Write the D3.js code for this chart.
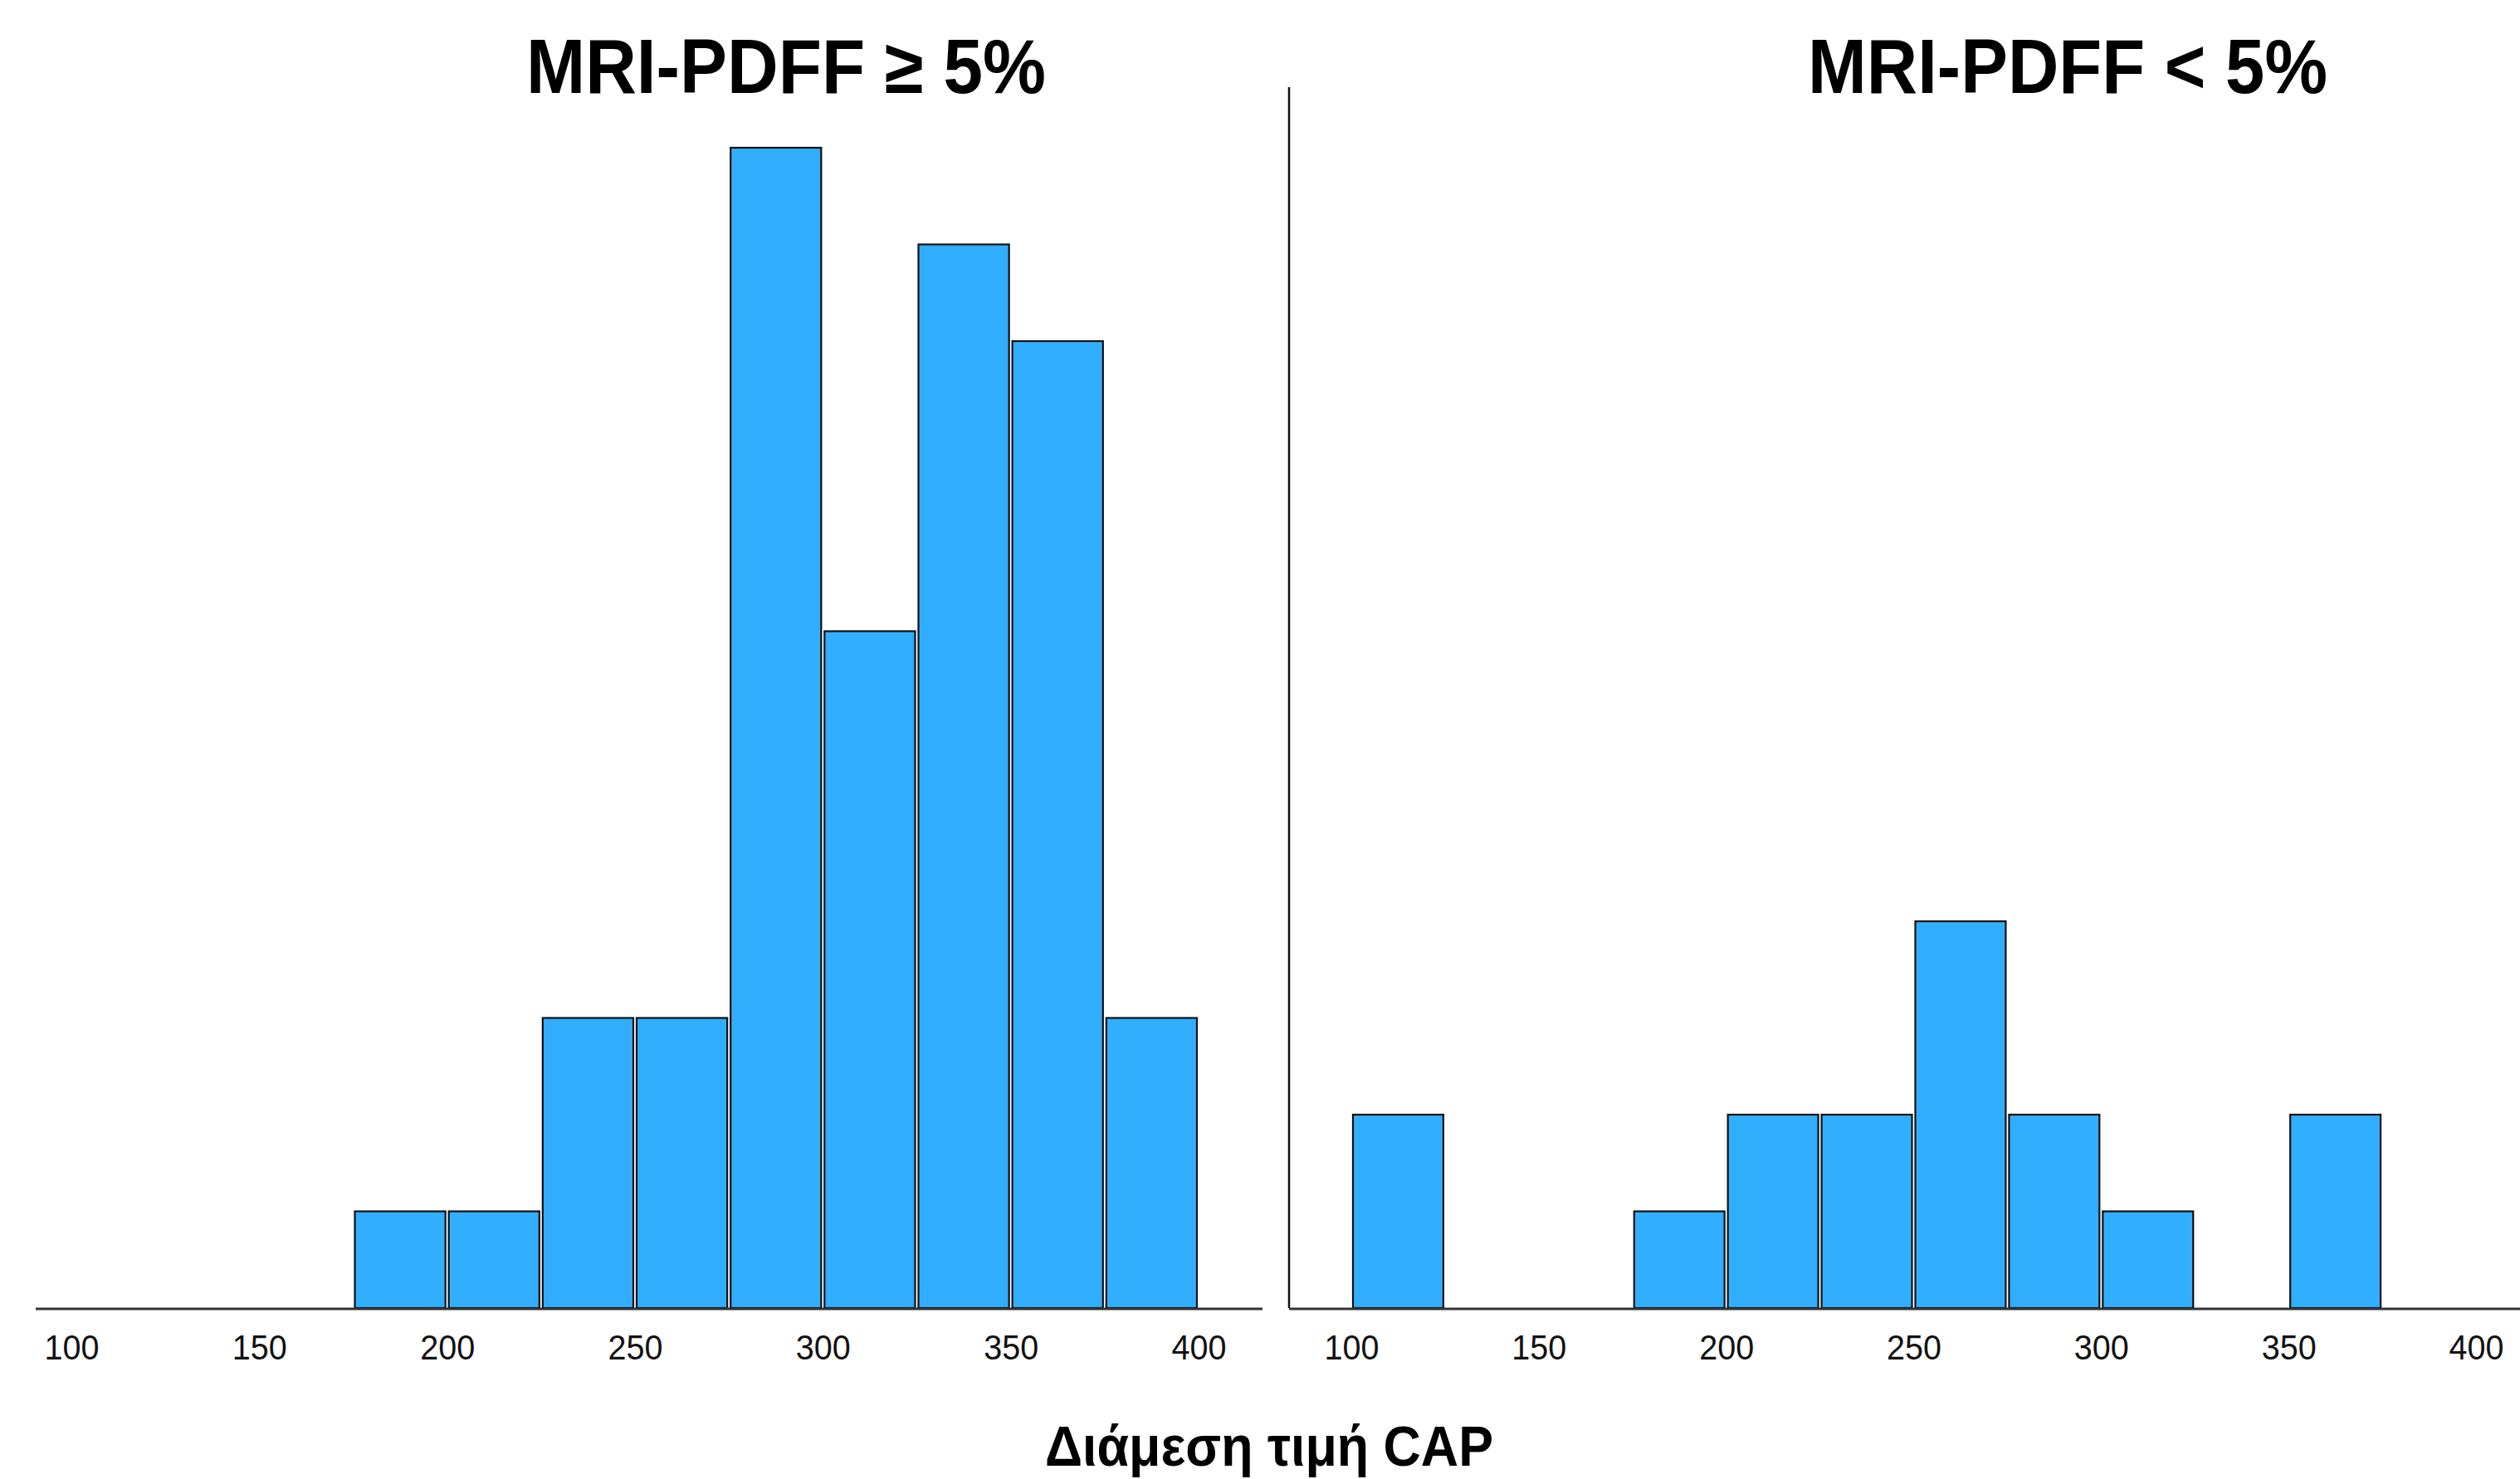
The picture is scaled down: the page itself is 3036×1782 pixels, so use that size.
<!DOCTYPE html>
<html>
<head>
<meta charset="utf-8">
<script src="https://cdn.jsdelivr.net/npm/d3@7"></script>
<style>
  body { margin: 0; background: #fff; }
  svg { display: block; font-family: "Liberation Sans", Arial, sans-serif; }
</style>
</head>
<body>
<svg id="chart" width="3036" height="1782"></svg>
<script>
// histogram bins (CAP, width 25) and counts
const binWidth = 25
const leftTitle = 'MRI-PDFF \u2265 5%'
const leftBins = [175, 200, 225, 250, 275, 300, 325, 350, 375]
const leftCounts = [1, 1, 3, 3, 12, 7, 11, 10, 3]

const rightTitle = 'MRI-PDFF < 5%'
const rightBins = [100, 125, 150, 175, 200, 225, 250, 275, 300, 325, 350, 375]
const rightCounts = [2, 0, 0, 1, 2, 2, 4, 2, 1, 0, 2, 0]

const tickValues = [100, 150, 200, 250, 300, 350, 400]
const xTitle = 'Διάμεση τιμή CAP'

const svg = d3.select('#chart')

const y = d3.scaleLinear().domain([0, 12]).range([1576, 178])

const panels = [
    { title: leftTitle, bins: leftBins, counts: leftCounts, range: [86, 1444], extent: [90.5, 417], titleX: 947 },
    { title: rightTitle, bins: rightBins, counts: rightCounts, range: [1628, 2983], extent: [83.4, 420], titleX: 2491 },
]

panels.forEach((p, i) => {
    let x = d3.scaleLinear().domain([100, 400]).range(p.range)
    let g = svg.append('g')

    let data = p.bins.map((b, j) => ({ x0: b, x1: b + binWidth, n: p.counts[j] })).filter(d => d.n > 0)

    g.selectAll('rect')
        .data(data)
        .join('rect')
        .attr('x', d => x(d.x0) + 2)
        .attr('width', d => x(d.x1) - x(d.x0) - 4)
        .attr('y', d => y(d.n))
        .attr('height', d => y(0) - y(d.n))
        .attr('fill', '#31aefe')
        .attr('stroke', '#111')
        .attr('stroke-width', 2.2)

    // baseline
    g.append('line')
        .attr('x1', x(p.extent[0])).attr('x2', x(p.extent[1]))
        .attr('y1', y(0) + 1).attr('y2', y(0) + 1)
        .attr('stroke', '#333').attr('stroke-width', 3)

    let axis = g.append('g')
        .attr('transform', `translate(0,${y(0)})`)
        .call(d3.axisBottom(x).tickValues(tickValues).tickSize(0).tickPadding(31))
    axis.select('.domain').remove()
    axis.selectAll('text')
        .attr('font-family', '"Liberation Sans", Arial, sans-serif')
        .attr('font-size', 43)
        .attr('fill', '#111')
        .attr('textLength', 66)
        .attr('lengthAdjust', 'spacingAndGlyphs')

    g.append('text')
        .attr('x', p.titleX)
        .attr('y', 112)
        .attr('text-anchor', 'middle')
        .attr('font-size', 92)
        .attr('font-weight', 'bold')
        .attr('textLength', 626)
        .attr('lengthAdjust', 'spacingAndGlyphs')
        .text(p.title)

    if (i === 1) {
        svg.append('line')
            .attr('x1', x(p.extent[0])).attr('x2', x(p.extent[0]))
            .attr('y1', 105).attr('y2', y(0))
            .attr('stroke', '#111').attr('stroke-width', 2.5)
    }
})

svg.append('text')
    .attr('x', 1529)
    .attr('y', 1766)
    .attr('text-anchor', 'middle')
    .attr('font-size', 68)
    .attr('font-weight', 'bold')
    .attr('textLength', 540)
    .attr('lengthAdjust', 'spacingAndGlyphs')
    .text(xTitle)
</script>
</body>
</html>
